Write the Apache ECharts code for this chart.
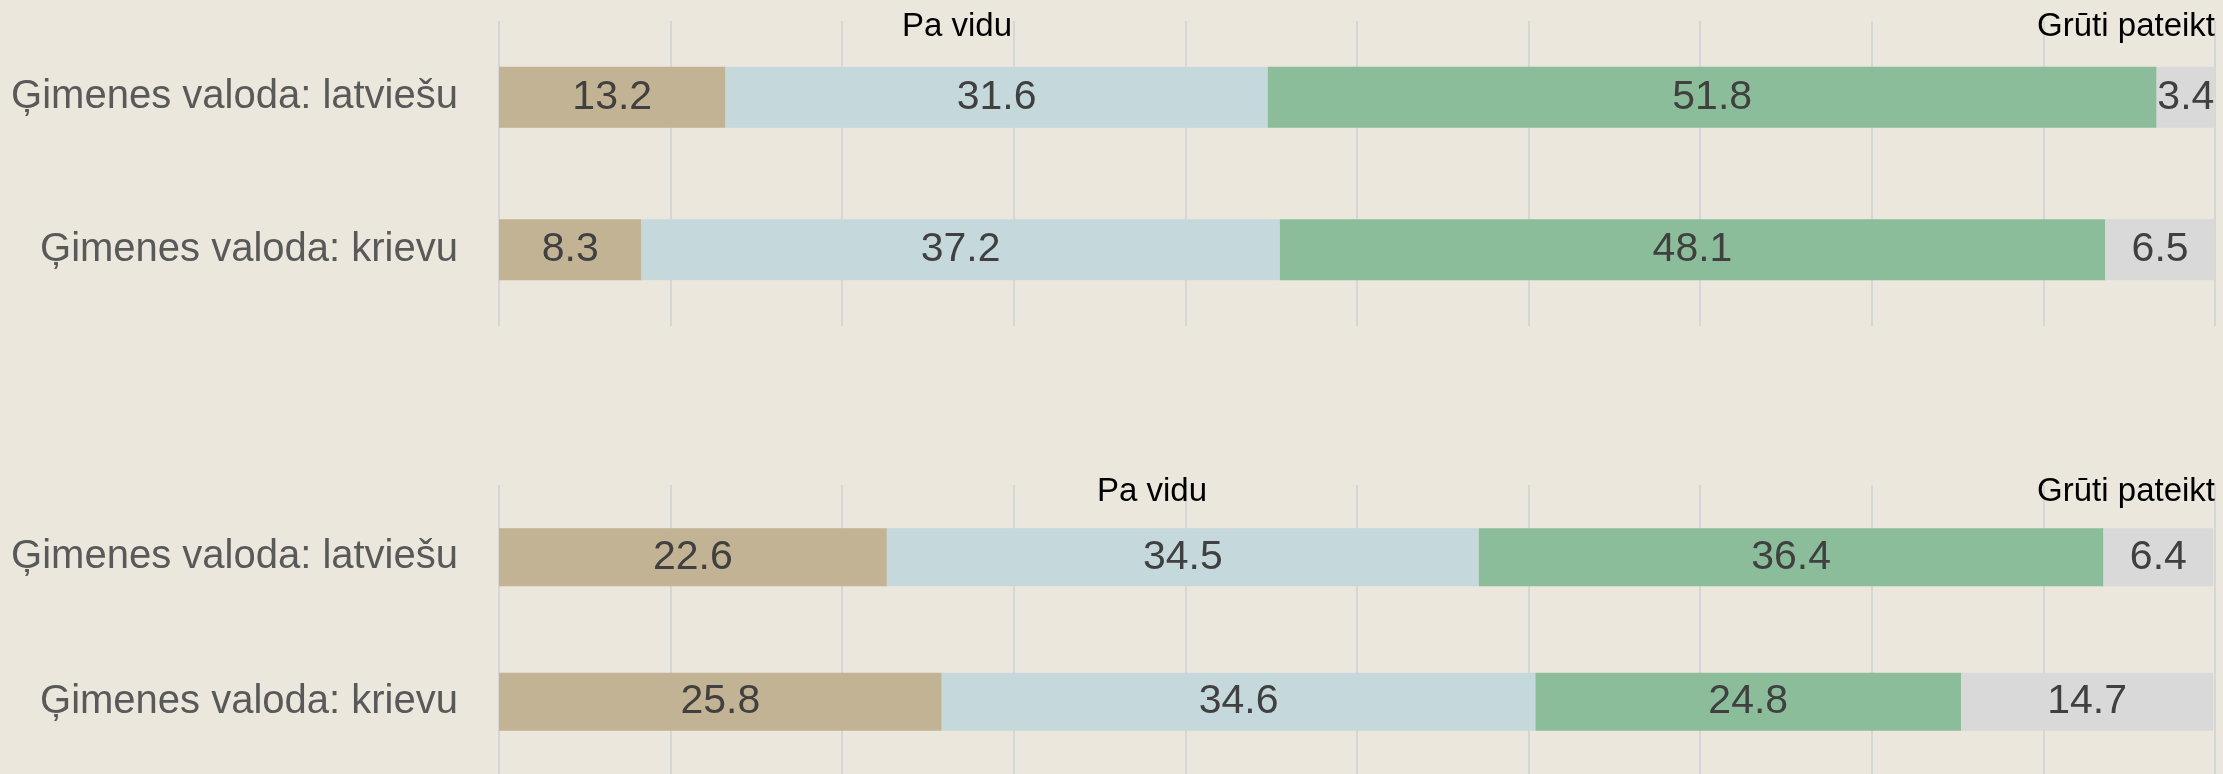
<!DOCTYPE html>
<html>
<head>
<meta charset="utf-8">
<script src="https://cdn.jsdelivr.net/npm/echarts@6/dist/echarts.min.js"></script>
<style>
html,body{margin:0;padding:0;background:#EBE7DC;}
#chart{width:2223px;height:774px;}
</style>
</head>
<body>
<div id="chart"></div>
<script>
var categories = ['Ģimenes valoda: latviešu', 'Ģimenes valoda: krievu'];
var seriesNames = ['Kategorija 1', 'Pa vidu', 'Kategorija 3', 'Grūti pateikt'];
var seriesColors = ['#C1B394', '#C5D9DD', '#8BBD9B', '#D9D9D9'];
var legendLabels = ['Pa vidu', 'Grūti pateikt'];

var topBeige = [13.2, 8.3];
var topBlue = [31.6, 37.2];
var topGreen = [51.8, 48.1];
var topGrey = [3.4, 6.5];

var botBeige = [22.6, 25.8];
var botBlue = [34.5, 34.6];
var botGreen = [36.4, 24.8];
var botGrey = [6.4, 14.7];

var xTicks = {min: 0, max: 100, interval: 10};

var FONT = 'Liberation Sans, Arial, sans-serif';
var topData = [topBeige, topBlue, topGreen, topGrey];
var botData = [botBeige, botBlue, botGreen, botGrey];

function mkSeries(dataSets, idx, stack) {
  return dataSets.map(function (d, i) {
    return {
      name: seriesNames[i],
      type: 'bar',
      stack: stack,
      xAxisIndex: idx,
      yAxisIndex: idx,
      barWidth: '40%',
      data: d,
      itemStyle: {color: seriesColors[i]},
      label: {
        show: true,
        position: 'inside',
        fontSize: 41,
        fontFamily: FONT,
        color: '#404040',
        formatter: function (p) { return p.value.toFixed(1); }
      },
      emphasis: {disabled: true}
    };
  });
}

function mkX(idx) {
  return {
    type: 'value', gridIndex: idx,
    min: xTicks.min, max: xTicks.max, interval: xTicks.interval,
    axisLabel: {show: false}, axisLine: {show: false}, axisTick: {show: false},
    splitLine: {show: true, lineStyle: {color: '#D6D6D6', width: 2}}
  };
}
function mkY(idx) {
  return {
    type: 'category', gridIndex: idx, inverse: true, data: categories,
    axisLine: {show: false}, axisTick: {show: false},
    axisLabel: {fontSize: 40, color: '#595959', fontFamily: FONT, margin: 41}
  };
}

var chart = echarts.init(document.getElementById('chart'));
chart.setOption({
  backgroundColor: '#EBE7DC',
  animation: false,
  grid: [
    {left: 499, right: 8, top: 21, height: 305},
    {left: 499, right: 8, top: 485, height: 292}
  ],
  xAxis: [mkX(0), mkX(1)],
  yAxis: [mkY(0), mkY(1)],
  series: mkSeries(topData, 0, 'top').concat(mkSeries(botData, 1, 'bot')),
  graphic: [
    {type: 'text', x: 957, y: 27, z: 10, style: {text: legendLabels[0], fontSize: 33, fontFamily: FONT, fill: '#000', align: 'center', verticalAlign: 'middle'}},
    {type: 'text', x: 2215, y: 27, z: 10, style: {text: legendLabels[1], fontSize: 33, fontFamily: FONT, fill: '#000', align: 'right', verticalAlign: 'middle'}},
    {type: 'text', x: 1152, y: 492, z: 10, style: {text: legendLabels[0], fontSize: 33, fontFamily: FONT, fill: '#000', align: 'center', verticalAlign: 'middle'}},
    {type: 'text', x: 2215, y: 492, z: 10, style: {text: legendLabels[1], fontSize: 33, fontFamily: FONT, fill: '#000', align: 'right', verticalAlign: 'middle'}}
  ]
});
</script>
</body>
</html>
